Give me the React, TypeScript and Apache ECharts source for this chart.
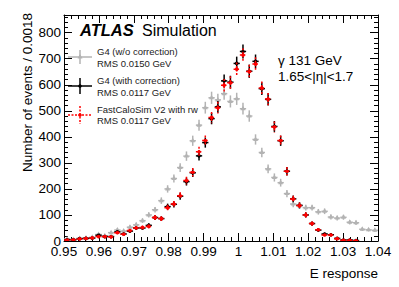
import React, { useEffect, useRef } from "react";
import * as echarts from "echarts";

// Histogram binning (E response), bin width 0.0018 from 0.95
const BIN_START = 0.95;
const BIN_WIDTH = 0.0018;

// G4 (w/o correction)
const g4NoCorr = [
  8, 6, 10, 12, 14, 25, 20, 32, 42, 38,
  53, 62, 78, 100, 120, 155, 200, 240, 282, 326,
  385, 445, 512, 550, 542, 566, 536, 546, 508, 480,
  390, 340, 277, 244, 224, 182, 142, 135, 128, 128,
  112, 114, 92, 88, 91, 72, 70, 45, 43, 41,
];
// G4 (with correction)
const g4Corr = [
  5, 5, 9, 10, 11, 22, 17, 17, 35, 27,
  38, 50, 50, 60, 90, 86, 132, 141, 172, 228,
  262, 327, 378, 470, 515, 615, 610, 682, 728, 652,
  690, 585, 544, 440, 385, 268, 162, 137, 100, 67,
  42, 27, 24, 10, 4, 4, 2, 0, 0, 0,
];
// FastCaloSim V2 with rw
const fcsRw = [
  4, 5, 8, 10, 12, 17, 17, 16, 32, 26,
  40, 50, 52, 56, 90, 86, 128, 142, 174, 232,
  264, 343, 386, 474, 512, 598, 608, 660, 714, 651,
  680, 588, 545, 438, 386, 268, 161, 136, 100, 67,
  43, 23, 23, 9, 3, 3, 1, 0, 0, 0,
];

const xMin = 0.95;
const xMax = 1.04;
const xInterval = 0.01;
const yMax = 868;

const legendEntries = [
  { key: "g4NoCorr", lines: ["G4 (w/o correction)", "RMS 0.0150 GeV"] },
  { key: "g4Corr", lines: ["G4 (with correction)", "RMS 0.0117 GeV"] },
  { key: "fcs", lines: ["FastCaloSim V2 with rw", "RMS 0.0117 GeV"] },
];

const FONT = '"Liberation Sans", Arial, Helvetica, sans-serif';
const GRAY = "#b3b3b3";
const RED = "#ff0000";

function errSeries(vals: number[], color: string, dash: number[] | null, marker: string, z: number) {
  return {
    type: "custom",
    xAxisIndex: 0,
    yAxisIndex: 0,
    z,
    clip: true,
    encode: { x: 0, y: 1 },
    data: vals.map((v, i) => [BIN_START + BIN_WIDTH * (i + 0.5), v, Math.sqrt(v)]),
    renderItem: (params: any, api: any) => {
      const x = api.value(0);
      const y = api.value(1);
      const e = api.value(2);
      if (!(y > 0)) return null;
      const c = api.coord([x, y]);
      const l = api.coord([x - BIN_WIDTH / 2, y]);
      const r = api.coord([x + BIN_WIDTH / 2, y]);
      const t = api.coord([x, y + e]);
      const b = api.coord([x, Math.max(0, y - e)]);
      const style: any = { stroke: color, lineWidth: 1.5 };
      if (dash) style.lineDash = dash;
      const children: any[] = [
        { type: "line", shape: { x1: l[0], y1: c[1], x2: r[0], y2: c[1] }, style },
        { type: "line", shape: { x1: c[0], y1: t[1], x2: c[0], y2: b[1] }, style },
      ];
      if (marker === "triangle") {
        children.push({
          type: "polygon",
          shape: { points: [[c[0], c[1] - 3], [c[0] - 2.5, c[1] + 1.5], [c[0] + 2.5, c[1] + 1.5]] },
          style: { fill: color },
        });
      } else {
        children.push({ type: "circle", shape: { cx: c[0], cy: c[1], r: 1.8 }, style: { fill: color } });
      }
      return { type: "group", children };
    },
  };
}

function legendSymbol(cx: number, cy: number, color: string, dash: number[] | null, marker: string, vLen: number) {
  const style: any = { stroke: color, lineWidth: 1.5 };
  if (dash) style.lineDash = dash;
  const items: any[] = [
    { type: "line", shape: { x1: cx - 12, y1: cy, x2: cx + 12, y2: cy }, style },
    { type: "line", shape: { x1: cx, y1: cy - vLen, x2: cx, y2: cy + vLen }, style },
  ];
  if (marker === "triangle") {
    items.push({
      type: "polygon",
      shape: { points: [[cx, cy - 3], [cx - 2.5, cy + 1.5], [cx + 2.5, cy + 1.5]] },
      style: { fill: color },
    });
  } else {
    items.push({ type: "circle", shape: { cx, cy, r: 1.8 }, style: { fill: color } });
  }
  return items;
}

export default function App() {
  const ref = useRef<HTMLDivElement>(null);
  useEffect(() => {
    document.body.style.margin = "0";
    if (!ref.current) return;
    const chart = echarts.init(ref.current, null, { renderer: "svg" });

    const axisBase = {
      type: "value",
      splitLine: { show: false },
      axisLine: { show: true, onZero: false, lineStyle: { color: "#000", width: 1 } },
    };

    const legendTextX = 97;
    const legendRows = [
      { y1: 51.5, y2: 63.5, sym: legendSymbol(80, 57, GRAY, null, "triangle", 7) },
      { y1: 80.5, y2: 92, sym: legendSymbol(80, 86, "#000", null, "circle", 8) },
      { y1: 109, y2: 120.5, sym: legendSymbol(80, 115, RED, [2, 1.5], "circle", 9) },
    ];

    const graphics: any[] = [
      {
        type: "text",
        x: 80,
        y: 30,
        style: { text: "ATLAS", fontSize: 16.5, fontWeight: "bold", fontStyle: "italic", fontFamily: FONT, fill: "#000", verticalAlign: "middle" },
      },
      {
        type: "text",
        x: 142,
        y: 30,
        style: { text: "Simulation", fontSize: 16, fontFamily: FONT, fill: "#000", verticalAlign: "middle" },
      },
      {
        type: "text",
        x: 278,
        y: 60,
        style: { text: "γ 131 GeV", fontSize: 13.5, fontFamily: FONT, fill: "#000", verticalAlign: "middle" },
      },
      {
        type: "text",
        x: 278,
        y: 76,
        style: { text: "1.65<|η|<1.7", fontSize: 13.5, fontFamily: FONT, fill: "#000", verticalAlign: "middle" },
      },
      {
        type: "text",
        x: 27,
        y: 13,
        rotation: Math.PI / 2,
        style: { text: "Number of events / 0.0018", fontSize: 13.5, fontFamily: FONT, fill: "#000", align: "right", verticalAlign: "middle" },
      },
      {
        type: "text",
        x: 378,
        y: 273,
        style: { text: "E response", fontSize: 13.5, fontFamily: FONT, fill: "#000", align: "right", verticalAlign: "middle" },
      },
    ];
    legendEntries.forEach((entry, i) => {
      const row = legendRows[i];
      graphics.push(...row.sym);
      graphics.push({
        type: "text",
        x: legendTextX,
        y: row.y1,
        style: { text: entry.lines[0], fontSize: 9.5, fontFamily: FONT, fill: "#222", verticalAlign: "middle" },
      });
      graphics.push({
        type: "text",
        x: legendTextX,
        y: row.y2,
        style: { text: entry.lines[1], fontSize: 9.5, fontFamily: FONT, fill: "#222", verticalAlign: "middle" },
      });
    });

    chart.setOption({
      animation: false,
      backgroundColor: "#fff",
      grid: { left: 64, right: 21, top: 15, bottom: 46, containLabel: false },
      xAxis: [
        {
          ...axisBase,
          position: "bottom",
          min: xMin,
          max: xMax,
          interval: xInterval,
          axisTick: { show: true, inside: true, length: 8, lineStyle: { color: "#000" } },
          minorTick: { show: true, splitNumber: 5, length: 4, lineStyle: { color: "#000" } },
          axisLabel: {
            show: true,
            fontSize: 13.5,
            fontFamily: FONT,
            color: "#000",
            margin: 3,
            formatter: (v: number) => String(Math.round(v * 100) / 100),
          },
        },
        {
          ...axisBase,
          position: "top",
          min: xMin,
          max: xMax,
          interval: xInterval,
          axisTick: { show: true, inside: true, length: 8, lineStyle: { color: "#000" } },
          minorTick: { show: true, splitNumber: 5, length: 4, lineStyle: { color: "#000" } },
          axisLabel: { show: false },
        },
      ],
      yAxis: [
        {
          ...axisBase,
          position: "left",
          min: 0,
          max: yMax,
          interval: 100,
          axisTick: { show: true, inside: true, length: 8, lineStyle: { color: "#000" } },
          axisLabel: {
            show: true,
            fontSize: 13.5,
            fontFamily: FONT,
            color: "#000",
            margin: 3,
            showMaxLabel: false,
            formatter: (v: number) => (v % 100 === 0 ? String(v) : ""),
          },
        },
        {
          ...axisBase,
          position: "left",
          min: 0,
          max: yMax,
          interval: 20,
          axisLine: { show: false },
          axisTick: { show: true, inside: true, length: 4, lineStyle: { color: "#000" } },
          axisLabel: { show: false },
        },
        {
          ...axisBase,
          position: "right",
          min: 0,
          max: yMax,
          interval: 100,
          axisTick: { show: true, inside: true, length: 8, lineStyle: { color: "#000" } },
          axisLabel: { show: false },
        },
        {
          ...axisBase,
          position: "right",
          min: 0,
          max: yMax,
          interval: 20,
          axisLine: { show: false },
          axisTick: { show: true, inside: true, length: 4, lineStyle: { color: "#000" } },
          axisLabel: { show: false },
        },
      ],
      series: [
        errSeries(g4NoCorr, GRAY, null, "triangle", 2),
        errSeries(g4Corr, "#000", null, "circle", 3),
        errSeries(fcsRw, RED, [2, 1.5], "circle", 4),
      ],
      graphic: graphics,
    });
    return () => chart.dispose();
  }, []);
  return <div ref={ref} style={{ width: 399, height: 287, position: "absolute", left: 0, top: 0 }} />;
}
